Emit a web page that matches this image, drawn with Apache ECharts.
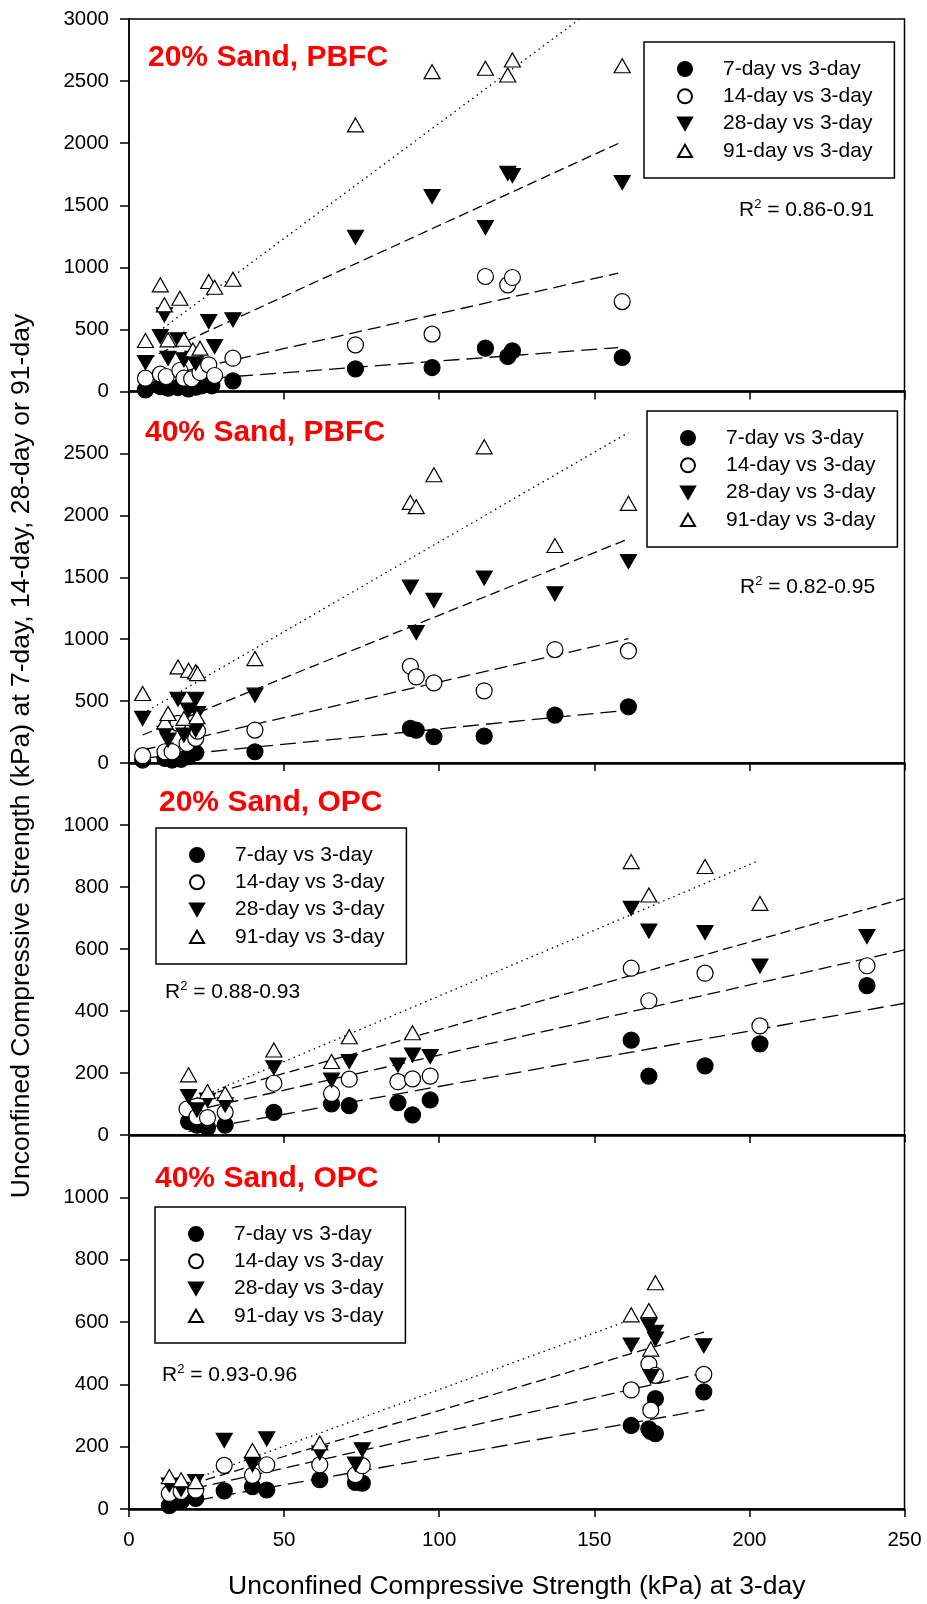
<!DOCTYPE html>
<html><head><meta charset="utf-8">
<script src="https://cdn.jsdelivr.net/npm/echarts@6/dist/echarts.min.js"></script>
<style>html,body{margin:0;padding:0;background:#fff}#c{width:927px;height:1604px}</style>
</head><body><div id="c"></div><script>
// ---- Data (x = UCS at 3-day, y = UCS at later age, kPa) ----
const seriesNames = ['7-day vs 3-day', '14-day vs 3-day', '28-day vs 3-day', '91-day vs 3-day'];
const panelTitles = ['20% Sand, PBFC', '40% Sand, PBFC', '20% Sand, OPC', '40% Sand, OPC'];
const r2Labels = ['0.86-0.91', '0.82-0.95', '0.88-0.93', '0.93-0.96'];
const xTicks = [0, 50, 100, 150, 200, 250];
const yTicksPBFC = [0, 500, 1000, 1500, 2000, 2500, 3000];
const yTicksOPC = [0, 200, 400, 600, 800, 1000, 1200];

// Panel 1: 20% Sand, PBFC
const pbfc20_d7 = [[5.3,13],[10.1,40],[12.6,27],[15.8,32],[19.2,21],[21.5,35],[23.4,46],[26.7,46],[33.5,86],[73,182],[97.7,193],[114.9,349],[122.1,282],[123.6,327],[159,274]];
const pbfc20_d14 = [[5.3,107],[10.1,140],[12,121],[16.4,169],[17.7,107],[20.2,102],[22.9,153],[25.7,215],[27.6,129],[33.5,268],[73,376],[97.7,462],[114.9,926],[122.1,859],[123.6,918],[159,724]];
const pbfc20_d28 = [[5.3,233],[10.1,443],[11.4,617],[12.6,268],[15.8,416],[17.7,255],[20.6,268],[21.5,228],[25.7,563],[27.6,362],[33.5,577],[73,1242],[97.7,1570],[114.9,1320],[122.1,1758],[123.6,1739],[159,1683]];
const pbfc20_d91 = [[5.3,411],[10.1,859],[11.4,698],[12.6,416],[16.4,751],[17.7,421],[20.6,335],[22.9,349],[25.7,886],[27.6,840],[33.5,904],[73,2147],[97.7,2576],[114.9,2603],[122.1,2549],[123.6,2670],[159,2624]];
const pbfc20_fit7 = [[5.3,67],[157.7,354]];
const pbfc20_fit14 = [[5.3,94],[157.7,953]];
const pbfc20_fit28 = [[5.3,255],[159,2012]];
const pbfc20_fit91 = [[11,510],[145.3,3000]];

// Panel 2: 40% Sand, PBFC
const pbfc40_d7 = [[4.4,24],[11.6,38],[13.9,24],[16.8,30],[19.2,51],[21.5,83],[40.6,91],[90.7,279],[92.6,266],[98.3,212],[114.5,217],[137.3,387],[161,454]];
const pbfc40_d14 = [[4.4,59],[11.6,91],[13.9,91],[15.8,320],[18.7,158],[21.5,199],[22.1,258],[40.6,266],[90.7,781],[92.6,695],[98.3,647],[114.5,583],[137.3,916],[161,905]];
const pbfc40_d28 = [[4.4,360],[11.6,239],[12.6,185],[15.8,515],[17.7,226],[19.2,427],[21.5,515],[21.5,266],[22.1,400],[40.6,548],[90.7,1420],[92.6,1053],[98.3,1313],[114.5,1493],[137.3,1367],[161,1627]];
const pbfc40_d91 = [[4.4,561],[11.6,333],[12.6,400],[15.8,776],[17.7,360],[19.2,749],[21.5,736],[21.9,373],[22.1,722],[40.6,843],[90.7,2105],[92.6,2070],[98.3,2328],[114.5,2553],[137.3,1756],[161,2097]];
const pbfc40_fit7 = [[4.4,38],[161,427]];
const pbfc40_fit14 = [[4.4,105],[161,1004]];
const pbfc40_fit28 = [[4.4,226],[161,1810]];
const pbfc40_fit91 = [[4.4,400],[161,2669]];

// Panel 3: 20% Sand, OPC
const opc20_d7 = [[19.2,43],[21.9,32],[25.3,24],[31,32],[46.7,73],[65.3,100],[71,95],[86.7,104],[91.4,65],[97.1,113],[161.9,306],[167.6,190],[185.7,223],[203.4,294],[237.9,482]];
const opc20_d14 = [[18.7,84],[21.9,59],[25.3,56],[31,73],[46.7,167],[65.3,134],[71,180],[86.7,172],[91.4,181],[97.1,190],[161.9,538],[167.6,433],[185.7,522],[203.4,352],[237.9,546]];
const opc20_d28 = [[19.2,124],[21.9,81],[25.3,113],[31,97],[46.7,217],[65.3,177],[71,237],[86.7,226],[91.4,258],[97.1,253],[161.9,731],[167.6,658],[185.7,653],[203.4,545],[237.9,640]];
const opc20_d91 = [[19.2,194],[25.3,140],[31,134],[46.7,274],[65.3,237],[71,317],[91.4,330],[161.9,882],[167.6,774],[185.7,866],[203.4,747]];
const opc20_fit7 = [[19.2,12],[250,425]];
const opc20_fit14 = [[19.2,75],[250,597]];
const opc20_fit28 = [[19.2,112],[250,763]];
const opc20_fit91 = [[22,118],[203,885]];

// Panel 4: 40% Sand, OPC
const opc40_d7 = [[13,11],[16.8,24],[21.5,34],[30.7,58],[39.8,72],[44.4,61],[61.5,94],[73,85],[75.2,83],[161.9,268],[167.6,257],[168.2,249],[169.7,242],[169.7,354],[185.3,376]];
const opc40_d14 = [[13,50],[16.8,56],[21.5,61],[30.7,140],[39.8,108],[44.4,142],[61.5,142],[73,110],[75.2,139],[161.9,382],[167.6,465],[168.2,317],[169.7,429],[185.3,432]];
const opc40_d28 = [[13,77],[16.8,63],[21.5,88],[30.7,220],[39.8,142],[44.4,225],[61.5,180],[73,144],[75.2,190],[161.9,526],[167.6,588],[168.2,425],[169.7,567],[169.7,545],[185.3,524]];
const opc40_d91 = [[13,104],[16.8,94],[21.5,88],[39.8,188],[61.5,212],[161.9,623],[167.6,637],[168.2,513],[169.7,726]];
const opc40_fit7 = [[22,28],[185.5,318]];
const opc40_fit14 = [[15,52],[185.5,437]];
const opc40_fit28 = [[20,80],[185.5,568]];
const opc40_fit91 = [[22,100],[161.9,608]];

// ---- Layout / style ----
const FONT = 'Liberation Sans, Arial, sans-serif';
const panels = [
  {top:19, height:372.5, yTicks:yTicksPBFC, data:[pbfc20_d7,pbfc20_d14,pbfc20_d28,pbfc20_d91], fits:[pbfc20_fit7,pbfc20_fit14,pbfc20_fit28,pbfc20_fit91],
   title:{x:148,y:58}, legend:{left:644,top:42}, r2:{x:739,y:210}},
  {top:391.5, height:371.5, yTicks:yTicksPBFC, data:[pbfc40_d7,pbfc40_d14,pbfc40_d28,pbfc40_d91], fits:[pbfc40_fit7,pbfc40_fit14,pbfc40_fit28,pbfc40_fit91],
   title:{x:145,y:433}, legend:{left:647,top:411}, r2:{x:740,y:587}},
  {top:763, height:372, yTicks:yTicksOPC, data:[opc20_d7,opc20_d14,opc20_d28,opc20_d91], fits:[opc20_fit7,opc20_fit14,opc20_fit28,opc20_fit91],
   title:{x:159,y:803}, legend:{left:156,top:828}, r2:{x:165,y:992}},
  {top:1135, height:374, yTicks:yTicksOPC, data:[opc40_d7,opc40_d14,opc40_d28,opc40_d91], fits:[opc40_fit7,opc40_fit14,opc40_fit28,opc40_fit91],
   title:{x:155,y:1179}, legend:{left:155,top:1207}, r2:{x:162,y:1375}}
];
const DOWN_TRI = 'path://M0,0L10,0L5,8.66Z';
const UP_TRI = 'path://M5,0L10,8.66L0,8.66Z';
const markerStyles = [
  {symbol:'circle', fill:'#000', size:16},
  {symbol:'circle', fill:'#fff', size:16},
  {symbol:DOWN_TRI, fill:'#000', size:[16,14]},
  {symbol:UP_TRI, fill:'#fff', size:[16,14]}
];
const dashTypes = [[16,7],[13,6],[10,5],[1.5,4]];

const grid = [], xAxis = [], yAxis = [], series = [], legend = [], graphic = [];
panels.forEach((p, i) => {
  grid.push({left:129, right:22.5, top:p.top, height:p.height, show:true, borderColor:'#000', borderWidth:1.5, backgroundColor:'transparent'});
  const last = i === panels.length - 1;
  xAxis.push({
    type:'value', gridIndex:i, min:xTicks[0], max:xTicks[xTicks.length-1], interval:xTicks[1]-xTicks[0],
    axisLine:{show:true, onZero:false, lineStyle:{color:'#000', width:2.5}},
    axisTick:{show:true, inside:false, length:8, lineStyle:{color:'#000', width:1.5}},
    axisLabel:{show:last, fontSize:20.5, margin:21, color:'#000', fontFamily:FONT, formatter:v => String(v)},
    splitLine:{show:false},
    name: last ? 'Unconfined Compressive Strength (kPa) at 3-day' : '',
    nameLocation:'middle', nameGap:64,
    nameTextStyle:{fontSize:26.5, color:'#000', fontFamily:FONT}
  });
  const yt = p.yTicks;
  yAxis.push({
    type:'value', gridIndex:i, min:yt[0], max:yt[yt.length-1], interval:yt[1]-yt[0],
    axisLine:{show:true, onZero:false, lineStyle:{color:'#000', width:1.5}},
    axisTick:{show:true, inside:false, length:9, lineStyle:{color:'#000', width:1.5}},
    axisLabel:{fontSize:20.5, margin:20, color:'#000', fontFamily:FONT, showMaxLabel: i === 0, formatter:v => String(v)},
    splitLine:{show:false}
  });
  p.fits.forEach((f, k) => {
    series.push({
      type:'line', name:'fit ' + seriesNames[k], xAxisIndex:i, yAxisIndex:i, data:f,
      symbol:'none', showSymbol:false, silent:true, z:2,
      lineStyle:{color:'#000', width:1.3, type:dashTypes[k]}
    });
  });
  p.data.forEach((d, k) => {
    const m = markerStyles[k];
    series.push({
      type:'scatter', name:seriesNames[k], xAxisIndex:i, yAxisIndex:i, data:d,
      symbol:m.symbol, symbolSize:m.size, z:3, clip:false,
      itemStyle:{color:m.fill, borderColor:'#000', borderWidth:1.2, opacity:1}
    });
  });
  legend.push({
    left:p.legend.left, top:p.legend.top, orient:'vertical', data:seriesNames,
    itemWidth:14, itemHeight:14, itemGap:6.3, padding:[16.5,22,16.5,33],
    borderColor:'#000', borderWidth:1.5, backgroundColor:'#fff', selectedMode:false,
    textStyle:{fontSize:21, color:'#000', fontFamily:FONT, padding:[0,0,0,26]}
  });
  graphic.push({
    type:'text', x:p.title.x, y:p.title.y, z:10,
    style:{text:panelTitles[i], fill:'#ff0000', fontSize:30, fontWeight:'bold', fontFamily:FONT, align:'left', verticalAlign:'middle'}
  });
  graphic.push({
    type:'text', x:p.r2.x, y:p.r2.y, z:10,
    style:{text:'R{s|2}{n| = ' + r2Labels[i] + '}', fill:'#000', fontSize:21, fontFamily:FONT, align:'left', verticalAlign:'middle',
      rich:{s:{fontSize:13, fontFamily:FONT, fill:'#000', verticalAlign:'top', lineHeight:24},
            n:{fontSize:21, fontFamily:FONT, fill:'#000', lineHeight:24}}}
  });
});
graphic.push({
  type:'text', x:22, y:756, rotation:Math.PI/2, z:10,
  style:{text:'Unconfined Compressive Strength (kPa) at 7-day, 14-day, 28-day or 91-day', fill:'#000', fontSize:26.5, fontFamily:FONT, align:'center', verticalAlign:'middle'}
});

const chart = echarts.init(document.getElementById('c'), null, {renderer:'canvas'});
chart.setOption({
  backgroundColor:'#fff', animation:false,
  textStyle:{fontFamily:FONT},
  grid, xAxis, yAxis, series, legend, graphic
});
</script></body></html>
